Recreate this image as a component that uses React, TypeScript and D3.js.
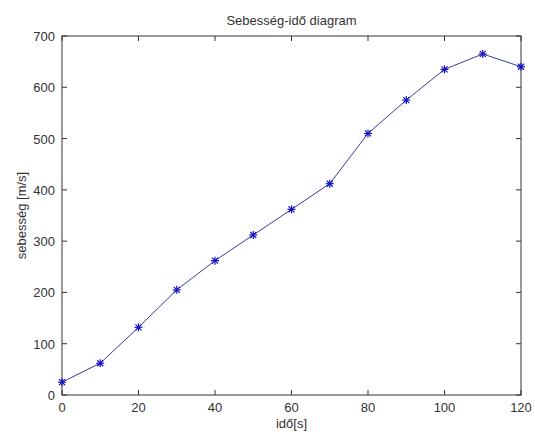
import React, { useRef, useEffect } from "react";
import * as d3 from "d3";

const times = [0, 10, 20, 30, 40, 50, 60, 70, 80, 90, 100, 110, 120];
const speeds = [25, 62, 132, 205, 262, 312, 362, 412, 510, 575, 635, 665, 640];
const xTicks = [0, 20, 40, 60, 80, 100, 120];
const yTicks = [0, 100, 200, 300, 400, 500, 600, 700];

const App = () => {
  const svgRef = useRef<SVGSVGElement>(null);
  const width = 535;
  const height = 434;
  const left = 62;
  const right = 521;
  const top = 36;
  const bottom = 395;

  useEffect(() => {
    const svg = d3.select(svgRef.current);
    svg.selectAll("*").remove();

    const x = d3.scaleLinear().domain([0, 120]).range([left, right]);
    const y = d3.scaleLinear().domain([0, 700]).range([bottom, top]);
    const font = "Liberation Sans, Arial, sans-serif";

    svg.append("rect").attr("width", width).attr("height", height).attr("fill", "#fff");

    // axes box
    svg.append("rect")
      .attr("x", left).attr("y", top)
      .attr("width", right - left).attr("height", bottom - top)
      .attr("fill", "none").attr("stroke", "#333").attr("stroke-width", 1);

    const tl = 5;
    const g = svg.append("g").attr("stroke", "#333").attr("stroke-width", 1);
    xTicks.forEach(t => {
      g.append("line").attr("x1", x(t)).attr("x2", x(t)).attr("y1", bottom).attr("y2", bottom - tl);
      g.append("line").attr("x1", x(t)).attr("x2", x(t)).attr("y1", top).attr("y2", top + tl);
    });
    yTicks.forEach(t => {
      g.append("line").attr("x1", left).attr("x2", left + tl).attr("y1", y(t)).attr("y2", y(t));
      g.append("line").attr("x1", right).attr("x2", right - tl).attr("y1", y(t)).attr("y2", y(t));
    });

    svg.append("g").selectAll("text").data(xTicks).join("text")
      .attr("x", d => x(d)).attr("y", bottom + 17)
      .attr("text-anchor", "middle")
      .attr("font-family", font).attr("font-size", "13px").attr("fill", "#333")
      .text(d => d);

    svg.append("g").selectAll("text").data(yTicks).join("text")
      .attr("x", left - 7).attr("y", d => y(d) + 5)
      .attr("text-anchor", "end")
      .attr("font-family", font).attr("font-size", "13px").attr("fill", "#333")
      .text(d => d);

    svg.append("text")
      .attr("x", (left + right) / 2).attr("y", 25)
      .attr("text-anchor", "middle")
      .attr("font-family", font).attr("font-size", "13px").attr("fill", "#333")
      .text("Sebesség-idő diagram");

    svg.append("text")
      .attr("x", (left + right) / 2).attr("y", 428)
      .attr("text-anchor", "middle")
      .attr("font-family", font).attr("font-size", "13px").attr("fill", "#333")
      .text("idő[s]");

    svg.append("text")
      .attr("transform", `translate(26,${(top + bottom) / 2}) rotate(-90)`)
      .attr("text-anchor", "middle")
      .attr("font-family", font).attr("font-size", "13px").attr("fill", "#333")
      .text("sebesség [m/s]");

    const pts = times.map((t, i) => [t, speeds[i]] as [number, number]);
    const line = d3.line<[number, number]>().x(d => x(d[0])).y(d => y(d[1]));
    svg.append("path")
      .attr("d", line(pts))
      .attr("fill", "none").attr("stroke", "#3a3aa0").attr("stroke-width", 1);

    // asterisk markers
    const r = 4;
    const mk = svg.append("g").attr("stroke", "#1010c0").attr("stroke-width", 1.2);
    pts.forEach(p => {
      const cx = x(p[0]);
      const cy = y(p[1]);
      mk.append("line").attr("x1", cx - r).attr("x2", cx + r).attr("y1", cy).attr("y2", cy);
      mk.append("line").attr("x1", cx).attr("x2", cx).attr("y1", cy - r).attr("y2", cy + r);
      const d = r * 0.75;
      mk.append("line").attr("x1", cx - d).attr("x2", cx + d).attr("y1", cy - d).attr("y2", cy + d);
      mk.append("line").attr("x1", cx - d).attr("x2", cx + d).attr("y1", cy + d).attr("y2", cy - d);
    });
  }, []);

  return (
    <div>
      <svg ref={svgRef} width={width} height={height} style={{ position: "absolute", left: 0, top: 0 }} />
    </div>
  );
};

export default App;
